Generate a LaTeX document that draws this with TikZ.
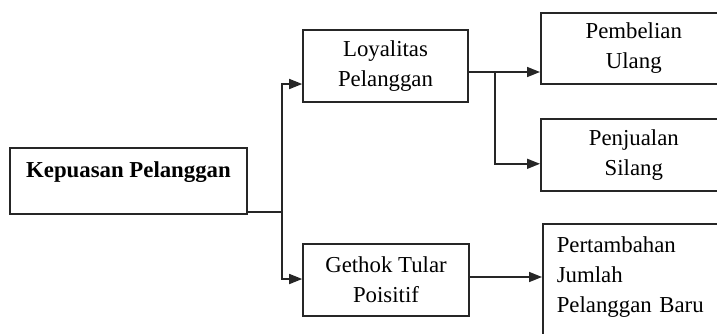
\documentclass[tikz,border=0pt]{standalone}
\usepackage{fontspec}
\setmainfont{Liberation Serif}
\usetikzlibrary{positioning,arrows.meta,calc}

\begin{document}
\begin{tikzpicture}[
    x=1pt, y=-1pt,
    box/.style={rectangle, draw=black!85, line width=1.6pt, fill=white, inner sep=0pt, font=\fontsize{22.8}{30}\selectfont, align=center},
    arrow/.style={-{Triangle[length=13pt,width=10pt]}, line width=1.6pt, black!85},
    line/.style={line width=1.6pt, black!85}
]
\useasboundingbox (0,0) rectangle (717,333);
\clip (0,0) rectangle (717,333);

% Main box
\node[box, minimum width=237pt, minimum height=66pt, text height=16pt, text depth=24pt, font=\fontsize{22.8}{30}\selectfont\bfseries] (kepuasan) at (128.5,181) {Kepuasan Pelanggan};

% Second level
\node[box, minimum width=165pt, minimum height=72pt] (loyal) at (385.5,66) {Loyalitas\\Pelanggan};
\node[box, minimum width=166pt, minimum height=72pt] (gethok) at (386,280) {Gethok Tular\\Poisitif};

% Third level
\node[box, minimum width=186pt, minimum height=71pt, anchor=north west] (ulang) at (540,12) {Pembelian\\Ulang};
\node[box, minimum width=186pt, minimum height=72pt, anchor=north west] (silang) at (540,118) {Penjualan\\Silang};
\node[box, align=left, anchor=north west, text width=158pt, inner xsep=14pt, inner ysep=13pt] (baru) at (542,223) {Pertambahan\\Jumlah\\Pelanggan Baru\\[30pt]~};

% Connections
\coordinate (fork1) at (282,212);
\coordinate (fork2) at (495,72);
\coordinate (out3) at ($(gethok.east)+(0,-3)$);

\draw[line] (kepuasan.east |- fork1) -- (fork1);
\draw[arrow] (fork1) |- ($(loyal.west)+(0,18)$);
\draw[arrow] (fork1) |- ($(gethok.west)+(0,-1)$);

\draw[line] (loyal.east |- fork2) -- (fork2);
\draw[arrow] (fork2) -- (ulang.west |- fork2);
\draw[arrow] (fork2) |- ($(silang.west)+(0,9)$);

\draw[arrow] (out3) -- (out3 -| baru.west);

\end{tikzpicture}
\end{document}
